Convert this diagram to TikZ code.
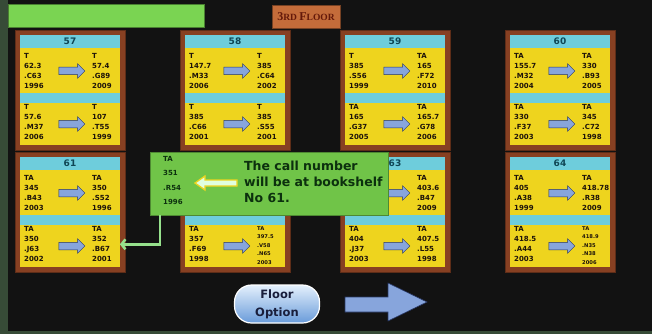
\documentclass[tikz,border=0pt]{standalone}
\usepackage{fontspec}
\setmainfont{DejaVu Sans}
\newfontfamily\capsfont{Liberation Serif}
\usetikzlibrary{arrows.meta,shapes.arrows}

\definecolor{wall}{RGB}{18,18,18}
\definecolor{frameedge}{RGB}{55,75,55}
\definecolor{wood}{RGB}{135,64,34}
\definecolor{shelfcyan}{RGB}{110,205,220}
\definecolor{shelfyellow}{RGB}{238,212,30}
\definecolor{calloutgreen}{RGB}{112,196,72}
\definecolor{bannergreen}{RGB}{122,212,82}
\definecolor{inkgreen}{RGB}{12,48,14}
\definecolor{floorbrown}{RGB}{196,108,58}
\definecolor{floorred}{RGB}{100,25,10}
\definecolor{arrowblue}{RGB}{135,165,220}
\definecolor{arrowedge}{RGB}{40,55,100}
\definecolor{numteal}{RGB}{15,70,85}
\definecolor{pointergreen}{RGB}{150,225,140}
\definecolor{navytext}{RGB}{25,30,60}

% #1 name, #2 shown number, #3 #4 top left corner, #5..#8 call numbers
\newcommand{\bookshelf}[8]{
    \node[shelfbox] (shelf#1) at (#3,#4) {};
    \fill[band] (#3+5,#4+5) rectangle (#3+105,#4+18);
    \fill[board] (#3+5,#4+18) rectangle (#3+105,#4+63);
    \fill[band] (#3+5,#4+63) rectangle (#3+105,#4+73);
    \fill[board] (#3+5,#4+73) rectangle (#3+105,#4+115);
    \node[shelfnum] (num#1) at (#3+55,#4+11.5) {#2};
    \node[cell] (s#1tl) at (#3+9,#4+23.5) {#5};
    \node[cell] (s#1tr) at (#3+77,#4+23.5) {#6};
    \node[cell] (s#1bl) at (#3+9,#4+74.5) {#7};
    \node[cell] (s#1br) at (#3+77,#4+74.5) {#8};
    \node[shelfarrow] (a#1top) at (#3+55,#4+41) {};
    \node[shelfarrow] (a#1bot) at (#3+55,#4+94) {};
}

\begin{document}
\begin{tikzpicture}[x=1pt, y=-1pt,
        shelfbox/.style={anchor=north west, fill=wood, draw=wood!70!black, minimum width=110pt, minimum height=120pt, inner sep=0pt},
        band/.style={fill=shelfcyan},
        board/.style={fill=shelfyellow},
        shelfnum/.style={font=\fontsize{9}{9}\selectfont\bfseries, text=numteal, inner sep=0pt},
        cell/.style={anchor=north west, align=left, inner sep=0pt, font=\fontsize{7}{10}\selectfont\bfseries, text=black!85!brown},
        smallcell/.style={font=\fontsize{5.2}{8.5}\selectfont\bfseries},
        shelfarrow/.style={single arrow, fill=arrowblue, draw=arrowedge, line width=0.5pt, inner sep=3.5pt,
            minimum height=26pt, single arrow head extend=3.5pt},
        callout/.style={fill=calloutgreen, draw=calloutgreen!70!black, minimum width=238pt, minimum height=63pt, inner sep=0pt},
        calltext/.style={anchor=north west, align=left, inner sep=0pt, text=inkgreen, font=\fontsize{7}{14.5}\selectfont\bfseries},
        message/.style={anchor=north west, align=left, inner sep=0pt, text=inkgreen, font=\fontsize{12.5}{16}\selectfont\bfseries},
        pointer/.style={draw=pointergreen, line width=2.5pt, -{Straight Barb[length=4pt, width=10pt]}},
        banner/.style={fill=bannergreen, draw=bannergreen!60!black, minimum width=196pt, minimum height=23pt},
        floorlabel/.style={fill=floorbrown, draw=floorbrown!60!black, minimum width=68pt, minimum height=23pt, inner sep=0pt, text=floorred, font=\capsfont\bfseries},
        floorbutton/.style={draw=white, line width=1.2pt, rounded corners=17pt, minimum width=85pt, minimum height=38pt, align=center,
            top color={rgb,255:red,228;green,240;blue,252}, bottom color={rgb,255:red,105;green,155;blue,218},
            text=navytext, font=\fontsize{11.5}{18}\selectfont\bfseries}
    ]
    \useasboundingbox (0,0) rectangle (652,334);
    \fill[wall] (0,0) rectangle (652,334);
    \fill[frameedge] (0,0) rectangle (8,334);
    \fill[frameedge] (0,331) rectangle (652,334);

    \node[banner] (banner) at (106,16) {};
    \node[floorlabel] (floorlabel) at (306,16.5) {{\fontsize{12}{12}\selectfont 3}{\fontsize{9.5}{10}\selectfont RD }{\fontsize{12}{12}\selectfont F}{\fontsize{9.5}{10}\selectfont LOOR}};

    \bookshelf{57}{57}{15}{30}{T\\62.3\\.C63\\1996}{T\\57.4\\.G89\\2009}{T\\57.6\\.M37\\2006}{T\\107\\.T55\\1999}
    \bookshelf{58}{58}{180}{30}{T\\147.7\\.M33\\2006}{T\\385\\.C64\\2002}{T\\385\\.C66\\2001}{T\\385\\.S55\\2001}
    \bookshelf{59}{59}{340}{30}{T\\385\\.S56\\1999}{TA\\165\\.F72\\2010}{TA\\165\\.G37\\2005}{TA\\165.7\\.G78\\2006}
    \bookshelf{60}{60}{505}{30}{TA\\155.7\\.M32\\2004}{TA\\330\\.B93\\2005}{TA\\330\\.F37\\2003}{TA\\345\\.C72\\1998}
    \bookshelf{61}{61}{15}{152}{TA\\345\\.B43\\2003}{TA\\350\\.S52\\1996}{TA\\350\\.J63\\2002}{TA\\352\\.B67\\2001}
    \bookshelf{62}{}{180}{152}{}{}{TA\\357\\.F69\\1998}{}
    \bookshelf{63}{63}{340}{152}{}{TA\\403.6\\.B47\\2009}{TA\\404\\.J37\\2003}{TA\\407.5\\.L55\\1998}
    \bookshelf{64}{64}{505}{152}{TA\\405\\.A38\\1999}{TA\\418.78\\.R38\\2009}{TA\\418.5\\.A44\\2003}{}
    % the two crowded five-line labels
    \node[cell, smallcell] (s62brx) at (257,226.5) {TA\\397.5\\.V58\\.N65\\2003};
    \node[cell, smallcell] (s64brx) at (582,226.5) {TA\\418.9\\.N35\\.N38\\2006};

    % where the call number goes
    \node[callout] (callout) at (269,183.5) {};
    \node[calltext] (callnum) at (163,156) {TA\\351\\.R54\\1996};
    \node[message] (message) at (244,161) {The call number\\will be at bookshelf\\No 61.};
    \path[fill=green!12!white, draw=shelfyellow, line width=1.3pt] (195,183) -- (205,176) -- (205,180) -- (237,180) -- (237,186) -- (205,186) -- (205,190) -- cycle;
    \draw[pointer] ([xshift=10pt]callout.south west) |- ([xshift=8pt]s61br.east);

    \node[floorbutton] (floorbtn) at (277,304) {Floor\\Option};
    \path[fill=arrowblue, draw=arrowedge, line width=0.6pt] (345,297) -- (388,297) -- (388,283) -- (427,302) -- (388,321) -- (388,312) -- (345,312) -- cycle;
\end{tikzpicture}
\end{document}
